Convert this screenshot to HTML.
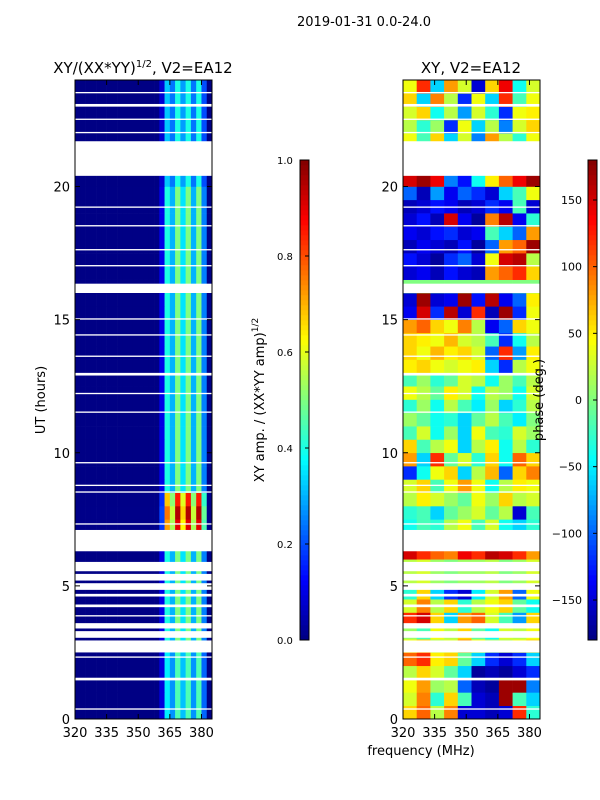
<!DOCTYPE html>
<html><head><meta charset="utf-8">
<style>
body{margin:0;background:#fff;}
svg{display:block;font-family:"DejaVu Sans","Liberation Sans",sans-serif;}
</style></head>
<body>
<svg id="fig" width="600" height="800" viewBox="0 0 600 800">
<text x="364" y="26" font-size="13" text-anchor="middle">2019-01-31 0.0-24.0</text>
<text x="143" y="73" font-size="15" text-anchor="middle">XY/(XX*YY)<tspan font-size="10" dy="-6">1/2</tspan><tspan dy="6">, V2=EA12</tspan></text>
<text x="471" y="73" font-size="15" text-anchor="middle">XY, V2=EA12</text>
<g id="left"></g>
<g id="right"></g>
<g id="cb1"></g>
<g id="cb2"></g>
<g id="axes"></g>
<text transform="translate(45,400) rotate(-90)" font-size="13" text-anchor="middle">UT (hours)</text>
<text x="421" y="755" font-size="13" text-anchor="middle">frequency (MHz)</text>
<text transform="translate(264,400) rotate(-90)" font-size="13" text-anchor="middle">XY amp. / (XX*YY amp)<tspan font-size="9" dy="-6">1/2</tspan></text>
<text transform="translate(543,400) rotate(-90)" font-size="13" text-anchor="middle">phase (deg.)</text>
</svg>
<script>
const NS="http://www.w3.org/2000/svg";
const ampBins=[0.005,0.005,0.005,0.005,0.005,0.005,0.005,0.005,0.005,0.005,0.005,0.005,0.005,0.005,0.005,0.005,0.1,0.4,0.3,0.5,0.35,0.5,0.3,0.5,0.25,0.005];
const rowGain=[0.9,0.9,0.9,0.9,0.9,1,1,1,1,1,1,1,1,1,1.8,1.9,1.7,1,1,1,1,1,1,1,1,1,1,1,1,1,1,1,1,1,1,1,1,1,1,1,0.8,0.8,0.8,0.8,0.8,0.8,0.8,0.8];
const gaps=[[0.35,0.4],[1.45,1.55],[2.3,2.35],[2.5,2.95],[3.05,3.3],[3.4,3.6],[3.85,3.9],[4.2,4.3],[4.6,4.7],[4.85,5.1],[5.2,5.45],[5.55,5.9],[6.3,7.1],[7.3,7.35],[8.5,8.55],[8.75,8.8],[9.6,9.65],[11.5,11.55],[12.2,12.25],[12.9,13.0],[13.6,13.65],[14.4,14.45],[15.0,15.05],[16.0,16.35],[17.0,17.05],[17.6,17.65],[18.5,18.55],[19.2,19.25],[20.4,21.7],[22.0,22.05],[22.5,22.55],[23.0,23.1],[23.5,23.55]];
const phase=[
[60,100,20,90,-150,-150,-160,-150,120,-30],[30,90,-30,60,-20,-150,-160,170,-20,-60],
[40,80,10,20,-100,-160,-170,170,170,-90],[20,60,30,-10,-60,-170,-160,-170,-150,-120],
[100,120,50,60,-10,-60,-120,-150,-120,-60],[40,60,20,30,80,40,10,20,40,60],
[10,-20,40,20,60,-10,-40,30,20,40],[120,150,60,-60,80,100,30,-20,-80,60],
[30,90,20,60,-30,20,40,60,-10,-40],[-30,60,-60,-120,-150,-50,30,80,-100,40],
[20,30,10,0,10,10,20,0,10,30],[20,30,10,0,10,10,20,0,10,30],
[150,120,100,90,140,120,160,150,120,80],[0,0,0,0,0,0,0,0,0,0],
[-40,-20,-30,20,40,-20,30,-40,-60,-30],[-30,-20,-60,-10,10,30,-10,20,-150,-20],
[20,50,30,10,-10,40,10,60,20,30],[30,60,-20,40,80,40,-40,20,50,40],
[-120,-40,40,60,-60,20,70,-100,60,90],[80,-60,120,-10,30,-30,60,-40,100,60],
[60,-20,20,40,-60,20,50,-40,20,-30],[-20,30,-40,10,-60,40,-20,-30,30,10],
[10,-10,-40,-30,-60,-10,20,-20,-50,0],[-30,10,-40,20,-20,-50,10,-60,-30,20],
[40,20,-10,50,30,-40,20,10,-40,30],[-20,10,-30,-10,30,20,-40,10,-20,20],
[50,60,40,30,40,50,-60,-120,20,40],[60,40,70,50,60,30,-100,120,-80,50],
[60,50,40,70,30,20,-20,-120,-40,20],[80,100,60,40,90,20,-140,-100,60,40],
[-140,150,-120,160,-150,120,-160,170,-120,40],[-150,170,-150,-140,170,-130,160,-140,-100,50],
[0,0,0,0,0,0,0,0,0,0],[-150,-140,-160,-130,-150,-160,80,100,120,60],
[-130,-150,-170,-120,-100,-150,40,150,160,20],[-160,-140,-150,-160,-130,-170,-100,80,100,170],
[-140,-150,-130,-120,-150,-140,-20,-60,-100,80],[-150,-130,-160,150,-140,-170,90,160,-140,-30],
[-160,-150,-130,-140,-160,-150,-120,-140,-20,-150],[-100,-160,-80,-140,-100,-120,-150,-60,-20,40],
[150,170,140,-90,-130,-40,50,100,140,170],[0,0,0,0,0,0,0,0,0,0],
[20,30,-40,10,20,-30,0,40,20,30],[40,-20,60,-60,30,-90,80,20,-30,40],
[20,-30,10,-120,40,-60,20,-90,30,60],[30,60,-40,20,-80,30,-30,-120,40,50],
[60,-60,90,20,-120,40,-60,120,-20,40],[40,120,-60,80,30,-150,60,140,-40,30]];
const yTicks=[0,5,10,15,20];
const xTicks=[320,335,350,365,380];
const ampTicks=[0.0,0.2,0.4,0.6,0.8,1.0];
const phTicks=[-150,-100,-50,0,50,100,150];

const Y0=719,Y1=80,F0=320,F1=385;
const yS=h=>Y0+(Y1-Y0)*h/24;
const xL=f=>75+(212-75)*(f-F0)/(F1-F0);
const xR=f=>403+(540-403)*(f-F0)/(F1-F0);
function jet(v){v=Math.max(0,Math.min(1,v));
 const c=x=>Math.round(255*Math.max(0,Math.min(1,1.5-Math.abs(4*v-x))));
 return `rgb(${c(3)},${c(2)},${c(1)})`;}
function el(tag,a,p){const e=document.createElementNS(NS,tag);for(const k in a)e.setAttribute(k,a[k]);p.appendChild(e);return e;}
const L=document.getElementById('left'),R=document.getElementById('right');
const rowH=0.5;
rowGain.forEach((g,i)=>{
 const h0=i*rowH;
 ampBins.forEach((a,j)=>{
  const f0=F0+j*2.5;
  const r=el('rect',{x:xL(f0),y:yS(h0+rowH),width:xL(f0+2.5)-xL(f0)+0.3,height:yS(h0)-yS(h0+rowH)+0.3,fill:jet(a*g)},L);
  
  
 });
});
phase.forEach((row,i)=>{
 const h0=i*rowH;const w=(F1-F0)/row.length;
 row.forEach((p,j)=>{
  const f0=F0+j*w;
  const r=el('rect',{x:xR(f0),y:yS(h0+rowH),width:xR(f0+w)-xR(f0)+0.3,height:yS(h0)-yS(h0+rowH)+0.3,fill:jet((p+180)/360)},R);
  
  
 });
});
gaps.forEach(g=>{
 [[75,212,L],[403,540,R]].forEach(([a,b,P])=>{
  const r=el('rect',{x:a,y:yS(g[1]),width:b-a,height:yS(g[0])-yS(g[1]),fill:'#fff'},P);
  
  
 });
});
const C1=document.getElementById('cb1'),C2=document.getElementById('cb2');
for(let k=0;k<96;k++){
 const v=k/96,y0=640-480*(k+1)/96;
 el('rect',{x:300,y:y0,width:9,height:480/96+0.3,fill:jet(v+0.5/96)},C1);
 el('rect',{x:588,y:y0,width:9,height:480/96+0.3,fill:jet(v+0.5/96)},C2);
}
el('rect',{x:300,y:160,width:9,height:480,fill:'none',stroke:'#000','stroke-width':1},C1);
el('rect',{x:588,y:160,width:9,height:480,fill:'none',stroke:'#000','stroke-width':1},C2);
ampTicks.forEach(t=>{const y=640-480*t;
 el('line',{x1:305,x2:309,y1:y,y2:y,stroke:'#000'},C1);
 const tx=el('text',{x:277,y:y+4,'font-size':10},C1);tx.textContent=t.toFixed(1);
 
 });
phTicks.forEach(t=>{const y=640-480*(t+180)/360;
 el('line',{x1:593,x2:597,y1:y,y2:y,stroke:'#000'},C2);
 const tx=el('text',{x:582,y:y+4,'font-size':11,'text-anchor':'end'},C2);tx.textContent=String(t).replace('-','\u2212');
 
 });
const A=document.getElementById('axes');
[[75,212,xL],[403,540,xR]].forEach(([a,b,xs])=>{
 el('rect',{x:a,y:Y1,width:b-a,height:Y0-Y1,fill:'none',stroke:'#000'},A);
 yTicks.forEach(t=>{const y=yS(t);
  el('line',{x1:a,x2:a+5,y1:y,y2:y,stroke:'#000'},A);
  el('line',{x1:b,x2:b-5,y1:y,y2:y,stroke:'#000'},A);
  const tx=el('text',{x:a-5,y:y+5,'font-size':13,'text-anchor':'end'},A);tx.textContent=t;
  
  });
 xTicks.forEach(t=>{const x=xs(t);
  el('line',{x1:x,x2:x,y1:Y0,y2:Y0-5,stroke:'#000'},A);
  el('line',{x1:x,x2:x,y1:Y1,y2:Y1+5,stroke:'#000'},A);
  const tx=el('text',{x:x,y:Y0+18,'font-size':13,'text-anchor':'middle'},A);tx.textContent=t;
  
  });
});
</script>
</body></html>
